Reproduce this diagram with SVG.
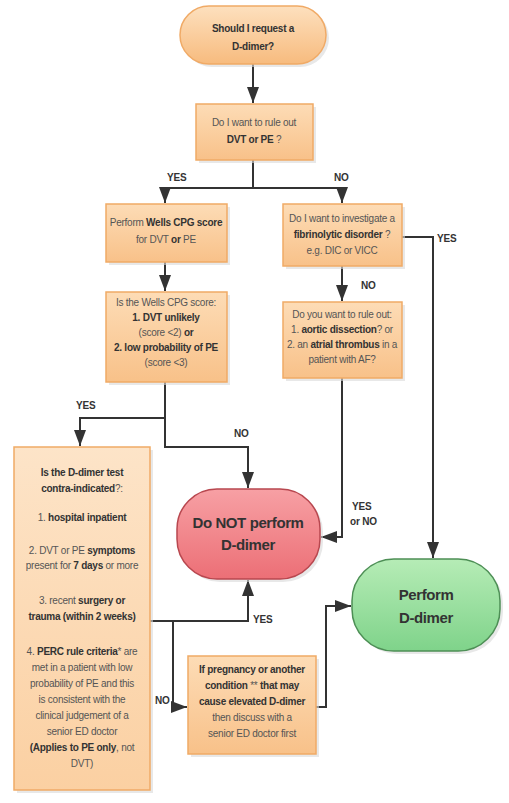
<svg xmlns="http://www.w3.org/2000/svg" width="509" height="803" viewBox="0 0 509 803">
<defs>
<linearGradient id="gOr" x1="0" y1="0" x2="0" y2="1"><stop offset="0" stop-color="#fddcb6"/><stop offset="1" stop-color="#f8c189"/></linearGradient>
<linearGradient id="gOrB" x1="0" y1="0" x2="0" y2="1"><stop offset="0" stop-color="#fde4c8"/><stop offset="1" stop-color="#fbd0a2"/></linearGradient>
<linearGradient id="gTop" x1="0" y1="0" x2="0" y2="1"><stop offset="0" stop-color="#fde0be"/><stop offset="1" stop-color="#f7bb7e"/></linearGradient>
<linearGradient id="gRed" x1="0" y1="0" x2="0" y2="1"><stop offset="0" stop-color="#f7a0a4"/><stop offset="1" stop-color="#ec6f76"/></linearGradient>
<linearGradient id="gGreen" x1="0" y1="0" x2="0" y2="1"><stop offset="0" stop-color="#b6ecb6"/><stop offset="1" stop-color="#7fd38a"/></linearGradient>
<marker id="arr" viewBox="0 0 16 12" refX="16" refY="6" markerWidth="16" markerHeight="12" markerUnits="userSpaceOnUse" orient="auto"><path d="M0,0 L16,6 L0,12 z" fill="#333"/></marker>
</defs>
<style>
.box{fill:url(#gOr);stroke:#f0aa66;stroke-width:1.5}
.boxb{fill:url(#gOrB);stroke:#f0aa66;stroke-width:1.5}
.sh{fill:#d8d8d8;opacity:0.6}
.t{font-family:"Liberation Sans Narrow","Liberation Sans",Arial,sans-serif;font-size:10px;letter-spacing:-0.25px;fill:#555;text-anchor:middle}
.b{font-weight:bold;fill:#333}
.lbl{font-family:"Liberation Sans Narrow","Liberation Sans",Arial,sans-serif;font-size:10px;font-weight:bold;letter-spacing:-0.2px;fill:#333}
.big{font-family:"Liberation Sans Narrow","Liberation Sans",Arial,sans-serif;font-size:15px;font-weight:bold;letter-spacing:-0.4px;fill:#333;text-anchor:middle}
.c{fill:none;stroke:#333;stroke-width:2}
</style>
<rect width="509" height="803" fill="#ffffff"/>

<g id="connectors">
<path class="c" d="M253,64 V103" marker-end="url(#arr)"/>
<path class="c" d="M253,160 V188 M165,188 H342"/>
<path class="c" d="M165,188 V203" marker-end="url(#arr)"/>
<path class="c" d="M342,188 V203" marker-end="url(#arr)"/>
<path class="c" d="M165,262 V291" marker-end="url(#arr)"/>
<path class="c" d="M402,237 H433 V558" marker-end="url(#arr)"/>
<path class="c" d="M342,266 V301" marker-end="url(#arr)"/>
<path class="c" d="M342,378 V537 H321" marker-end="url(#arr)"/>
<path class="c" d="M165,380 V447 H248 V488" marker-end="url(#arr)"/>
<path class="c" d="M165,418 H80 V446" marker-end="url(#arr)"/>
<path class="c" d="M150,621 H248 V580" marker-end="url(#arr)"/>
<path class="c" d="M173,621 V707 H187" marker-end="url(#arr)"/>
<path class="c" d="M316,707 H326 V606 H351" marker-end="url(#arr)"/>
<text class="lbl" x="167" y="181">YES</text>
<text class="lbl" x="334" y="181">NO</text>
<text class="lbl" x="437" y="242">YES</text>
<text class="lbl" x="361" y="289">NO</text>
<text class="lbl" x="76" y="409">YES</text>
<text class="lbl" x="234" y="437">NO</text>
<text class="lbl" x="352" y="510">YES</text>
<text class="lbl" x="350" y="525">or NO</text>
<text class="lbl" x="253" y="623">YES</text>
<text class="lbl" x="155" y="704">NO</text>
</g>

<g id="start">
<rect x="183" y="9" width="146" height="58" rx="29" class="sh"/>
<rect x="180" y="6" width="146" height="58" rx="29" fill="url(#gTop)" stroke="#f0aa66" stroke-width="1.5"/>
<text class="t b" x="253" y="32" font-size="11">Should I request a</text>
<text class="t b" x="253" y="50" font-size="11">D-dimer?</text>
</g>

<g id="q-rule-out">
<rect x="199" y="107" width="117" height="56" class="sh"/>
<rect x="196" y="104" width="117" height="56" class="box"/>
<text class="t" x="254" y="126">Do I want to rule out</text>
<text class="t b" x="254" y="143">DVT or PE <tspan font-weight="normal" fill="#555">?</tspan></text>
</g>

<g id="wells">
<rect x="109" y="207" width="121" height="58" class="sh"/>
<rect x="106" y="204" width="121" height="58" class="box"/>
<text class="t" x="166" y="226">Perform <tspan class="b">Wells CPG score</tspan></text>
<text class="t" x="166" y="243">for DVT <tspan class="b">or</tspan> PE</text>
</g>

<g id="wells-score">
<rect x="109" y="295" width="121" height="90" class="sh"/>
<rect x="106" y="292" width="121" height="90" class="box"/>
<text class="t" x="166" y="306">Is the Wells CPG score:</text>
<text class="t b" x="166" y="321">1. DVT unlikely</text>
<text class="t" x="166" y="336">(score &lt;2) <tspan class="b">or</tspan></text>
<text class="t b" x="166" y="351">2. low probability of PE</text>
<text class="t" x="166" y="366">(score &lt;3)</text>
</g>

<g id="fibrinolytic">
<rect x="286" y="207" width="119" height="62" class="sh"/>
<rect x="283" y="204" width="119" height="62" class="box"/>
<text class="t" x="342" y="222">Do I want to investigate a</text>
<text class="t" x="342" y="238"><tspan class="b">fibrinolytic disorder</tspan> ?</text>
<text class="t" x="342" y="254">e.g. DIC or VICC</text>
</g>

<g id="aortic">
<rect x="286" y="305" width="119" height="76" class="sh"/>
<rect x="283" y="302" width="119" height="76" class="box"/>
<text class="t" x="342" y="318">Do you want to rule out:</text>
<text class="t" x="342" y="333">1. <tspan class="b">aortic dissection</tspan>? or</text>
<text class="t" x="342" y="348">2. an <tspan class="b">atrial thrombus</tspan> in a</text>
<text class="t" x="342" y="363">patient with AF?</text>
</g>

<g id="contra">
<rect x="17" y="450" width="136" height="343" class="sh"/>
<rect x="14" y="447" width="136" height="343" class="boxb"/>
<text class="t b" x="82" y="476">Is the D-dimer test</text>
<text class="t b" x="82" y="492">contra-indicated<tspan font-weight="normal" fill="#555">?:</tspan></text>
<text class="t" x="82" y="521">1. <tspan class="b">hospital inpatient</tspan></text>
<text class="t" x="82" y="554">2. DVT or PE <tspan class="b">symptoms</tspan></text>
<text class="t" x="82" y="569">present for <tspan class="b">7 days</tspan> or more</text>
<text class="t" x="82" y="604">3. recent <tspan class="b">surgery or</tspan></text>
<text class="t b" x="82" y="620">trauma (within 2 weeks)</text>
<text class="t" x="82" y="655">4. <tspan class="b">PERC rule criteria</tspan>* are</text>
<text class="t" x="82" y="671">met in a patient with low</text>
<text class="t" x="82" y="687">probability of PE and this</text>
<text class="t" x="82" y="703">is consistent with the</text>
<text class="t" x="82" y="719">clinical judgement of a</text>
<text class="t" x="82" y="735">senior ED doctor</text>
<text class="t" x="82" y="751"><tspan class="b">(Applies to PE only</tspan>, not</text>
<text class="t" x="82" y="767">DVT)</text>
</g>

<g id="do-not">
<rect x="180" y="492" width="143" height="90" rx="40" class="sh"/>
<rect x="177" y="489" width="143" height="90" rx="40" fill="url(#gRed)" stroke="#b8474f" stroke-width="1.5"/>
<text class="big" x="248" y="528">Do NOT perform</text>
<text class="big" x="248" y="550">D-dimer</text>
</g>

<g id="pregnancy">
<rect x="191" y="659" width="128" height="98" class="sh"/>
<rect x="188" y="656" width="128" height="98" class="box"/>
<text class="t" x="252" y="673"><tspan class="b">If pregnancy or another</tspan></text>
<text class="t" x="252" y="689"><tspan class="b">condition</tspan> ** <tspan class="b">that may</tspan></text>
<text class="t b" x="252" y="705">cause elevated D-dimer</text>
<text class="t" x="252" y="721">then discuss with a</text>
<text class="t" x="252" y="737">senior ED doctor first</text>
</g>

<g id="perform">
<rect x="355" y="562" width="148" height="92" rx="42" class="sh"/>
<rect x="352" y="559" width="148" height="92" rx="42" fill="url(#gGreen)" stroke="#4d8f55" stroke-width="1.5"/>
<text class="big" x="426" y="600">Perform</text>
<text class="big" x="426" y="623">D-dimer</text>
</g>
</svg>
